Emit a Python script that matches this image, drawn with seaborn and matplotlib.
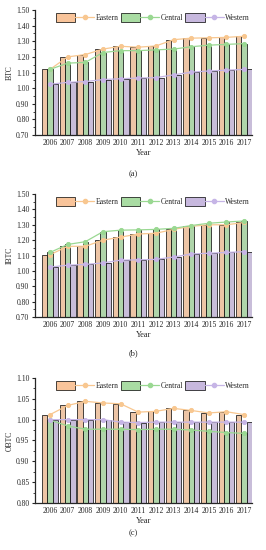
import pandas as pd
import matplotlib.pyplot as plt
import seaborn as sns
from matplotlib.patches import Patch
from matplotlib.lines import Line2D
from matplotlib.legend_handler import HandlerTuple
from matplotlib.ticker import MultipleLocator, FuncFormatter

# Data
years = [str(y) for y in range(2006, 2018)]
regions = ["Eastern", "Central", "Western"]

btc_eastern = [1.12, 1.20, 1.215, 1.25, 1.268, 1.262, 1.27, 1.31, 1.32, 1.322, 1.325, 1.332]
btc_central = [1.12, 1.16, 1.165, 1.228, 1.24, 1.24, 1.245, 1.25, 1.265, 1.275, 1.28, 1.285]
btc_western = [1.025, 1.037, 1.042, 1.055, 1.06, 1.065, 1.067, 1.085, 1.102, 1.11, 1.115, 1.12]

ibtc_eastern = [1.105, 1.16, 1.16, 1.20, 1.22, 1.24, 1.245, 1.27, 1.29, 1.30, 1.30, 1.315]
ibtc_central = [1.12, 1.172, 1.19, 1.255, 1.265, 1.267, 1.27, 1.277, 1.295, 1.31, 1.318, 1.325]
ibtc_western = [1.025, 1.037, 1.042, 1.052, 1.07, 1.072, 1.075, 1.09, 1.11, 1.115, 1.12, 1.125]

obtc_eastern = [1.012, 1.034, 1.044, 1.040, 1.038, 1.018, 1.020, 1.027, 1.022, 1.016, 1.019, 1.012]
obtc_central = [0.999, 0.985, 0.977, 0.977, 0.977, 0.976, 0.977, 0.977, 0.975, 0.972, 0.969, 0.967]
obtc_western = [1.000, 1.000, 1.000, 1.000, 0.994, 0.993, 0.994, 0.994, 0.994, 0.994, 0.994, 0.994]

bar_colors = ["#F9C49A", "#A9DCA3", "#C7B8DE"]
line_colors = ["#F8C790", "#9AD892", "#C6B5E6"]

sns.set_style("ticks")
plt.rcParams["font.family"] = ["Liberation Serif", "DejaVu Serif"]
plt.rcParams["font.size"] = 5.5

fig = plt.figure(figsize=(2.66, 5.5), dpi=100)

panels = [
    ("BTC", [btc_eastern, btc_central, btc_western], (0.70, 1.50), 0.10, 0.05, "(a)", [0.1316, 0.7545, 0.816, 0.2273], 0.676),
    ("IBTC", [ibtc_eastern, ibtc_central, ibtc_western], (0.70, 1.50), 0.10, 0.05, "(b)", [0.1316, 0.4236, 0.816, 0.2236], 0.351),
    ("OBTC", [obtc_eastern, obtc_central, obtc_western], (0.80, 1.10), 0.05, 0.025, "(c)", [0.1316, 0.0855, 0.816, 0.2273], 0.024),
]

for ylab, series, ylim, major, minor, tag, rect, tag_y in panels:
    df = pd.DataFrame({
        "Year": years * 3,
        "Region": [r for r in regions for _ in years],
        "val": series[0] + series[1] + series[2],
    })
    ax = fig.add_axes(rect)
    sns.barplot(data=df, x="Year", y="val", hue="Region", hue_order=regions,
                palette=bar_colors, width=0.9, edgecolor="black", linewidth=0.5,
                errorbar=None, legend=False, ax=ax)
    sns.pointplot(data=df, x="Year", y="val", hue="Region", hue_order=regions,
                  palette=line_colors, dodge=False, markers="o", markersize=3,
                  linewidth=0.9, errorbar=None, legend=False, ax=ax)
    ax.set_ylim(*ylim)
    ax.set_xlim(-0.85, 11.45)
    ax.yaxis.set_major_locator(MultipleLocator(major))
    ax.yaxis.set_minor_locator(MultipleLocator(minor))
    ax.yaxis.set_major_formatter(FuncFormatter(lambda v, p: f"{v:.2f}"))
    ax.tick_params(axis="y", which="major", length=2.5, width=0.8, labelsize=5.5, pad=1.5)
    ax.tick_params(axis="y", which="minor", length=1.5, width=0.6)
    ax.tick_params(axis="x", length=0, labelsize=5.5, pad=3)
    sns.despine(ax=ax)
    for s in ["left", "bottom"]:
        ax.spines[s].set_linewidth(0.9)
    ax.set_ylabel(ylab, fontsize=5.5, labelpad=2)
    ax.set_xlabel("Year", fontsize=6, labelpad=1.5)

    handles = []
    for bc, lc in zip(bar_colors, line_colors):
        p = Patch(facecolor=bc, edgecolor="black", linewidth=0.5)
        l = Line2D([], [], color=lc, marker="o", markersize=3, linewidth=0.9)
        handles.append((p, l))
    ax.legend(handles, regions, handler_map={tuple: HandlerTuple(ndivide=None, pad=0)},
              ncol=3, frameon=False, loc="upper left", bbox_to_anchor=(0.09, 0.985),
              handlelength=5.0, handleheight=1.3, handletextpad=0.15,
              columnspacing=0.35, fontsize=5.5, borderaxespad=0.0, borderpad=0.2)

    fig.text(0.5, tag_y, tag, ha="center", va="bottom", fontsize=6)

fig.savefig("out.png", dpi=100)
